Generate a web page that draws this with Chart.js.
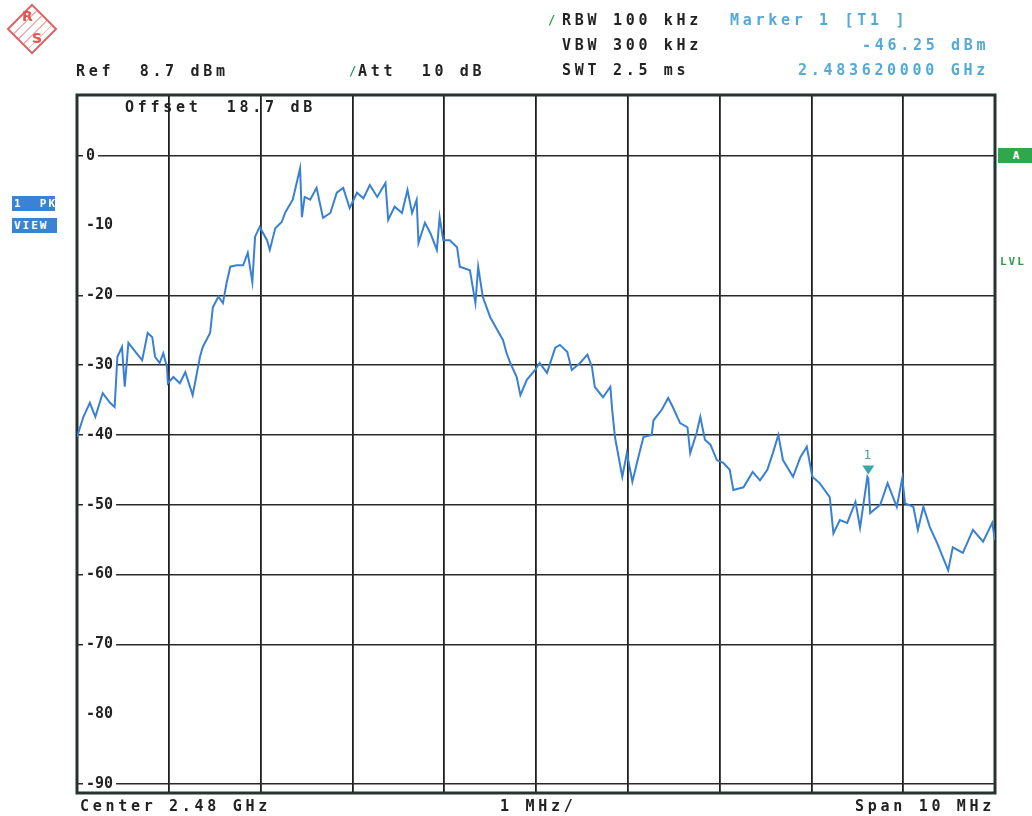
<!DOCTYPE html>
<html>
<head>
<meta charset="utf-8">
<script src="https://cdn.jsdelivr.net/npm/chart.js@4.4.1/dist/chart.umd.min.js"></script>
<style>
  body { margin: 0; background: #fff; }
  #wrap { position: relative; width: 1032px; height: 816px; overflow: hidden; }
  #spec { position: absolute; left: 0; top: 0; }
  .t { position: absolute; font: bold 15px "DejaVu Sans Mono", monospace; letter-spacing: 3.7px;
       line-height: 16px; color: #222; white-space: pre; }
  .c { color: #55a9d6; }
  .tick { color: #2c9a45; letter-spacing: 0; font-size: 12px; }
  .box { position: absolute; background: #3a82d4; color: #fff; font: bold 11px "DejaVu Sans Mono", monospace;
         letter-spacing: 2px; line-height: 15px; height: 15px; padding-left: 2px; white-space: pre; }
  #logo { position: absolute; left: 14px; top: 11px; width: 36px; height: 36px; border: 2px solid #e06060;
          transform: rotate(45deg); box-sizing: border-box;
          background: repeating-linear-gradient(90deg, transparent 0 6px, #f2b0b0 6px 7px); }
  .lg { position: absolute; color: #e05555; font: bold 14px "DejaVu Sans", sans-serif; }
</style>
</head>
<body>
<div id="wrap">
  <canvas id="spec" width="1032" height="816"></canvas>

  <div id="logo"></div>
  <div class="lg" style="left:22px;top:8px;">R</div>
  <div class="lg" style="left:32px;top:30px;">S</div>

  <div class="t" style="left:76px;top:63px;">Ref  8.7 dBm</div>
  <div class="t tick" style="left:349px;top:63px;">/</div>
  <div class="t" style="left:358px;top:63px;">Att  10 dB</div>

  <div class="t tick" style="left:548px;top:12px;">/</div>
  <div class="t" style="left:562px;top:12px;">RBW 100 kHz</div>
  <div class="t" style="left:562px;top:37px;">VBW 300 kHz</div>
  <div class="t" style="left:562px;top:62px;">SWT 2.5 ms</div>

  <div class="t c" style="left:730px;top:12px;">Marker 1 [T1 ]</div>
  <div class="t c" style="left:862px;top:37px;">-46.25 dBm</div>
  <div class="t c" style="left:798px;top:62px;">2.483620000 GHz</div>

  <div class="t" style="left:125px;top:99px;">Offset  18.7 dB</div>

  <div class="box" style="left:12px;top:196px;width:41px;">1  PK</div>
  <div class="box" style="left:12px;top:218px;width:43px;">VIEW</div>

  <div class="box" style="left:998px;top:148px;width:34px;background:#2ea84a;text-align:center;">A</div>
  <div class="t" style="left:1000px;top:254px;color:#2f9a4a;font-size:11px;letter-spacing:2px;">LVL</div>

  <div class="t" style="left:80px;top:798px;">Center 2.48 GHz</div>
  <div class="t" style="left:500px;top:798px;">1 MHz/</div>
  <div class="t" style="left:855px;top:798px;">Span 10 MHz</div>
</div>

<script>
// trace: offset from 2.475 GHz in MHz, level in dBm
var freqMHz = [
  0.00, 0.07, 0.14, 0.20, 0.28, 0.36, 0.41, 0.44, 0.49, 0.52, 0.56, 0.65, 0.71, 0.77, 0.82, 0.85,
  0.90, 0.94, 0.98, 0.99, 1.05, 1.12, 1.18, 1.26, 1.34, 1.37, 1.45, 1.48, 1.54, 1.59, 1.63, 1.67,
  1.74, 1.81, 1.86, 1.91, 1.94, 1.99, 2.07, 2.10, 2.16, 2.23, 2.27, 2.35, 2.40, 2.43, 2.45, 2.48,
  2.54, 2.61, 2.68, 2.76, 2.83, 2.90, 2.97, 3.05, 3.12, 3.19, 3.27, 3.36, 3.39, 3.46, 3.54, 3.60,
  3.65, 3.70, 3.72, 3.79, 3.85, 3.92, 3.95, 3.99, 4.06, 4.14, 4.17, 4.28, 4.34, 4.37, 4.42, 4.50,
  4.58, 4.64, 4.68, 4.72, 4.79, 4.83, 4.90, 4.99, 5.04, 5.12, 5.21, 5.26, 5.34, 5.39, 5.48, 5.56,
  5.61, 5.64, 5.73, 5.81, 5.83, 5.86, 5.94, 5.99, 6.05, 6.10, 6.17, 6.26, 6.28, 6.37, 6.44, 6.49,
  6.57, 6.65, 6.68, 6.75, 6.79, 6.84, 6.90, 6.97, 7.04, 7.11, 7.15, 7.26, 7.36, 7.44, 7.52, 7.58,
  7.64, 7.69, 7.80, 7.88, 7.95, 8.01, 8.09, 8.20, 8.24, 8.31, 8.39, 8.48, 8.53, 8.61, 8.62, 8.64,
  8.75, 8.83, 8.93, 8.99, 9.02, 9.11, 9.16, 9.22, 9.29, 9.37, 9.49, 9.54, 9.65, 9.76, 9.87, 9.97,
  10.00
];
var levelDbm = [
  -40.3, -37.4, -35.4, -37.4, -34.0, -35.4, -36.0, -28.8, -27.4, -33.1, -26.8, -28.3, -29.3, -25.4, -26.0, -28.8,
  -29.7, -28.3, -30.3, -32.6, -31.7, -32.6, -31.0, -34.3, -28.8, -27.4, -25.4, -21.7, -20.2, -21.1, -18.2, -15.9,
  -15.7, -15.7, -13.9, -18.1, -11.6, -10.2, -12.1, -13.5, -10.4, -9.5, -8.1, -6.3, -3.5, -1.8, -8.8, -5.9,
  -6.3, -4.6, -8.9, -8.2, -5.3, -4.6, -7.5, -5.3, -6.1, -4.2, -5.9, -3.9, -9.2, -7.3, -8.2, -4.9,
  -8.2, -6.3, -12.5, -9.6, -11.1, -13.5, -8.8, -12.1, -12.1, -13.1, -15.9, -16.4, -21.1, -15.9, -20.2, -23.1,
  -25.0, -26.4, -28.3, -29.7, -31.7, -34.3, -32.1, -30.7, -29.7, -31.1, -27.5, -27.1, -28.1, -30.7, -29.7, -28.5,
  -30.3, -33.1, -34.6, -33.1, -36.4, -40.3, -46.0, -42.6, -46.7, -44.0, -40.3, -40.0, -37.9, -36.4, -34.7, -36.0,
  -38.3, -38.9, -42.6, -39.7, -37.4, -40.7, -41.4, -43.6, -44.0, -45.0, -47.9, -47.5, -45.3, -46.5, -45.0, -42.6,
  -40.0, -43.6, -46.0, -43.2, -41.7, -46.0, -46.9, -48.9, -54.1, -52.2, -52.6, -49.6, -53.3, -46.0, -46.25, -51.2,
  -50.0, -46.9, -50.3, -46.2, -49.8, -50.3, -53.6, -50.3, -53.2, -55.5, -59.4, -56.1, -56.9, -53.6, -55.3, -52.6,
  -55.1
];
var yTicks = [0, -10, -20, -30, -40, -50, -60, -70, -80, -90];
var hiddenGrid = [-10, -80];   // these two lines are missing on the print
var markerFreq = [8.62];
var markerLevel = [-46.25];
var refLevel = 8.7;

var points = freqMHz.map(function(f, i) { return {x: f, y: levelDbm[i]}; });

var frame = {
  id: 'frame',
  beforeDatasetsDraw: function(chart) {
    var a = chart.chartArea, ctx = chart.ctx;
    ctx.save();
    ctx.strokeStyle = '#27332f';
    ctx.lineWidth = 3;
    ctx.strokeRect(a.left, a.top, a.right - a.left, a.bottom - a.top);
    ctx.restore();
  }
};

var marker = {
  id: 'marker',
  afterDatasetsDraw: function(chart) {
    var ctx = chart.ctx;
    for (var i = 0; i < markerFreq.length; i++) {
      var px = chart.scales.x.getPixelForValue(markerFreq[i]);
      var py = chart.scales.y.getPixelForValue(markerLevel[i]) - 4;
      ctx.save();
      ctx.fillStyle = '#3aa6a8';
      ctx.beginPath();
      ctx.moveTo(px - 6, py - 9);
      ctx.lineTo(px + 6, py - 9);
      ctx.lineTo(px, py);
      ctx.closePath();
      ctx.fill();
      ctx.font = '12px "DejaVu Sans Mono"';
      ctx.textAlign = 'center';
      ctx.fillText(String(i + 1), px - 1, py - 16);
      ctx.restore();
    }
  }
};

new Chart(document.getElementById('spec'), {
  type: 'line',
  data: {
    datasets: [{
      data: points,
      borderColor: '#3a80d2',
      borderWidth: 2,
      pointRadius: 0,
      tension: 0,
      fill: false
    }]
  },
  options: {
    responsive: false,
    animation: false,
    devicePixelRatio: 1,
    layout: { padding: { left: 59, right: 37, top: 95, bottom: 23 } },
    plugins: { legend: { display: false }, tooltip: { enabled: false } },
    scales: {
      x: {
        type: 'linear', min: 0, max: 10,
        ticks: { display: false, stepSize: 1 },
        grid: { color: '#1f1f1f', lineWidth: 1.8, drawTicks: false },
        border: { display: false }
      },
      y: {
        min: refLevel - 100, max: refLevel,
        afterBuildTicks: function(axis) {
          axis.ticks = yTicks.map(function(v) { return {value: v}; });
        },
        ticks: {
          mirror: true, padding: 9, color: '#222',
          font: { family: 'DejaVu Sans Mono', size: 15, weight: 'bold' },
          showLabelBackdrop: true, backdropColor: '#fff', backdropPadding: 3
        },
        grid: {
          drawTicks: false, lineWidth: 1.6,
          color: function(c) {
            return (c.tick && hiddenGrid.indexOf(c.tick.value) >= 0) ? 'rgba(0,0,0,0)' : '#2a2a2a';
          }
        },
        border: { display: false }
      }
    }
  },
  plugins: [frame, marker]
});
</script>
</body>
</html>
